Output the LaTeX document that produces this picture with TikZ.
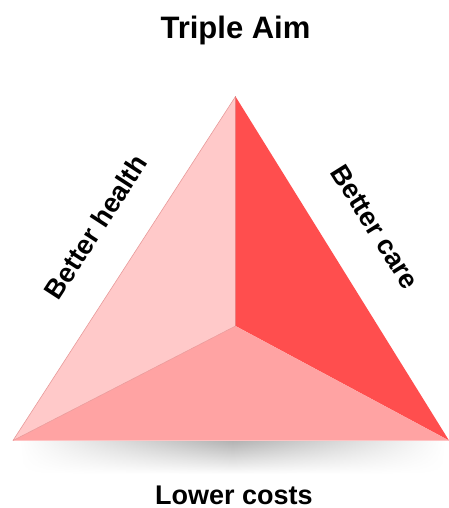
\documentclass[tikz,border=0pt]{standalone}
\usepackage{fontspec}
\setmainfont{Liberation Sans}
\usetikzlibrary{fadings}
\definecolor{faceL}{HTML}{FFC9C9}
\definecolor{faceR}{HTML}{FF4E4E}
\definecolor{faceB}{HTML}{FFA3A3}
\definecolor{edgeC}{HTML}{E89A9A}
\tikzfading[name=sidefade, left color=transparent!100, right color=transparent!100, middle color=transparent!0]
\begin{document}
\begin{tikzpicture}[x=1pt,y=-1pt,
  lbl/.style={font=\bfseries\fontsize{27}{31}\selectfont, text=black, inner sep=0pt}]
\useasboundingbox (0,0) rectangle (448,508);
\coordinate (apex) at (235.5,96.5);
\coordinate (lft) at (13,440.5);
\coordinate (rgt) at (449,440.5);
\coordinate (ctr) at (235.5,326);
% shadow
\shade[path fading=sidefade, top color=black!30, bottom color=white] (20,441) rectangle (445,474);
% faces
\fill[faceL] (apex) -- (ctr) -- (lft) -- cycle;
\fill[faceR] (apex) -- (rgt) -- (ctr) -- cycle;
\fill[faceB] (lft) -- (ctr) -- (rgt) -- cycle;
\draw[draw=edgeC, line width=0.6pt] (lft) -- (apex);
\draw[draw=edgeC, line width=0.5pt] (lft) -- (ctr);
\draw[draw=faceR!80!black, line width=0.3pt, opacity=0.4] (apex) -- (ctr);
% labels
\node[lbl, font=\bfseries\fontsize{31}{35}\selectfont, anchor=base] (title) at (235.5,39) {Triple Aim};
\node[lbl, anchor=base] (costs) at (234,504) {Lower costs};
\node[lbl, rotate=57] (health) at (95.5,227) {Better health};
\node[lbl, rotate=-58] (care) at (375,227) {Better care};
\end{tikzpicture}
\end{document}
